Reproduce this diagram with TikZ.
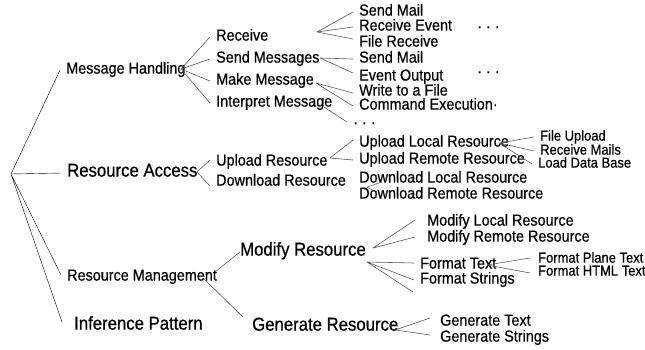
\documentclass[tikz,border=0pt]{standalone}
\usepackage{fontspec}
\setmainfont{Liberation Sans}[FakeStretch=0.9,FakeBold=0.6]
\begin{document}
\begin{tikzpicture}[x=1pt,y=-1pt]
    \tikzstyle{etiq}=[anchor=west,inner xsep=6pt,inner ysep=0pt,text height=0.72em,text depth=0pt,font=\fontsize{16}{18}\selectfont]
    \tikzstyle{grand}=[etiq,font=\fontsize{18.6}{20}\selectfont]
    \tikzstyle{petit}=[etiq,font=\fontsize{14.4}{16}\selectfont]
    \tikzstyle{trait}=[black!65,line width=0.6pt]
  \useasboundingbox (0,0) rectangle (645,349);
  \coordinate (root) at (11,174);
  \node[etiq] (mh) at (60,70) {Message Handling};
  \node[grand] (ra) at (61,173) {Resource Access};
  \node[etiq] (rm) at (61,277) {Resource Management};
  \node[grand] (ip) at (68,326) {Inference Pattern};
  \draw[thin] (root) -- (mh.west) (root) -- (ra.west) (root) -- ([yshift=2pt]rm.west)
    (root) -- ([xshift=-6pt,yshift=4pt]ip.west);
  % Message Handling
  \coordinate (mh-o) at (181,69);
  \node[etiq] (rcv) at (210,37) {Receive};
  \node[etiq] (snd) at (210,59) {Send Messages};
  \node[etiq] (mk) at (210,81) {Make Message};
  \node[etiq] (itp) at (210,103) {Interpret Message};
  \foreach \n in {rcv,snd,mk,itp} \draw[trait] (mh-o) -- (\n.west);
  \coordinate (rcv-o) at (317,32);
  \node[etiq] (rsm) at (353,12) {Send Mail};
  \node[etiq] (rev) at (353,27) {Receive Event};
  \node[etiq] (frc) at (353,43) {File Receive};
  \node[etiq] (rdots) at (471,28) {· · ·};
  \draw[trait] (rcv-o) -- (rsm.west) (rcv-o) -- (rev.west) (rcv-o) -- ([yshift=4pt]frc.west);
  \coordinate (snd-o) at (320,58);
  \node[etiq] (ssm) at (353,59) {Send Mail};
  \node[etiq] (eo) at (353,77) {Event Output};
  \node[etiq] (sdots) at (471,73) {· · ·};
  \draw[trait] (snd-o) -- (ssm.west) (snd-o) -- ([yshift=4pt]eo.west);
  \coordinate (mk-o) at (316,83);
  \node[etiq] (wf) at (353,92) {Write to a File};
  \node[etiq] (ce) at (353,106) {Command Execution·};
  \draw[trait] (mk-o) -- ([yshift=-1pt]wf.west) (mk-o) -- (ce.west);
  \coordinate (itp-o) at (324,107);
  \node[etiq] (idots) at (347,124) {· · ·};
  \draw[trait] (itp-o) -- ([yshift=2pt]idots.west);
  % Resource Access
  \coordinate (ra-o) at (197,172);
  \node[etiq] (ur) at (210,162) {Upload Resource};
  \node[etiq] (dr) at (210,182) {Download Resource};
  \draw[trait] (ra-o) -- ([yshift=2pt]ur.west) (ra-o) -- ([yshift=-4pt]dr.west);
  \coordinate (ur-o) at (330,158);
  \node[etiq] (ulr) at (353,143) {Upload Local Resource};
  \node[etiq] (urr) at (353,160) {Upload Remote Resource};
  \draw[trait] (ur-o) -- ([yshift=3pt]ulr.west) (ur-o) -- (urr.west);
  \coordinate (ulr-o) at (499,143);
  \node[petit] (fu) at (534,137) {File Upload};
  \node[petit] (rml) at (534,151) {Receive Mails};
  \node[petit] (ldb) at (532,164) {Load Data Base};
  \draw[trait] (ulr-o) -- (fu.west) (ulr-o) -- (rml.west) (ulr-o) -- (ldb.west);
  \coordinate (dr-o) at (367,187);
  \node[etiq] (dlr) at (353,179) {Download Local Resource};
  \node[etiq] (drr) at (353,195) {Download Remote Resource};
  \draw[trait] (dr-o) -- ([xshift=29pt,yshift=-3pt]dlr.west) (dr-o) -- ([xshift=21pt,yshift=4pt]drr.west);
  % Resource Management
  \coordinate (rm-o1) at (215,272);
  \coordinate (rm-o2) at (203,278);
  \node[grand] (mr) at (234,252) {Modify Resource};
  \node[grand] (gr) at (246,327) {Generate Resource};
  \draw[trait] (rm-o1) -- ([xshift=6pt]mr.west) (rm-o2) -- ([xshift=-3pt,yshift=10pt]gr.west);
  \coordinate (mr-o1) at (373,248);
  \coordinate (mr-o2) at (367,262);
  \coordinate (mr-e) at (413,292);
  \node[etiq] (mlr) at (421,222) {Modify Local Resource};
  \node[etiq] (mrr) at (421,238) {Modify Remote Resource};
  \node[etiq] (ft) at (414,265) {Format Text};
  \node[etiq] (fs) at (414,280) {Format Strings};
  \draw[trait] (mr-o1) -- ([xshift=-6pt,yshift=2pt]mlr.west) (mr-o1) -- ([xshift=-6pt,yshift=1pt]mrr.west);
  \draw[trait] (mr-o2) -- ([yshift=2pt]ft.west) (mr-o2) -- (fs.west) (mr-o2) -- (mr-e);
  \coordinate (ft-o) at (487,265);
  \node[petit] (fpt) at (532,259) {Format Plane Text};
  \node[petit] (fht) at (532,272) {Format HTML Text};
  \draw[trait] (ft-o) -- ([xshift=-2pt,yshift=1pt]fpt.west) (ft-o) -- ([xshift=-2pt,yshift=-1pt]fht.west);
  \coordinate (gr-o) at (395,330);
  \node[etiq] (gt) at (434,322) {Generate Text};
  \node[etiq] (gs) at (434,338) {Generate Strings};
  \draw[trait] (gr-o) -- ([xshift=-4pt,yshift=4pt]gt.west) (gr-o) -- ([xshift=-4pt,yshift=3pt]gs.west);
\end{tikzpicture}
\end{document}
